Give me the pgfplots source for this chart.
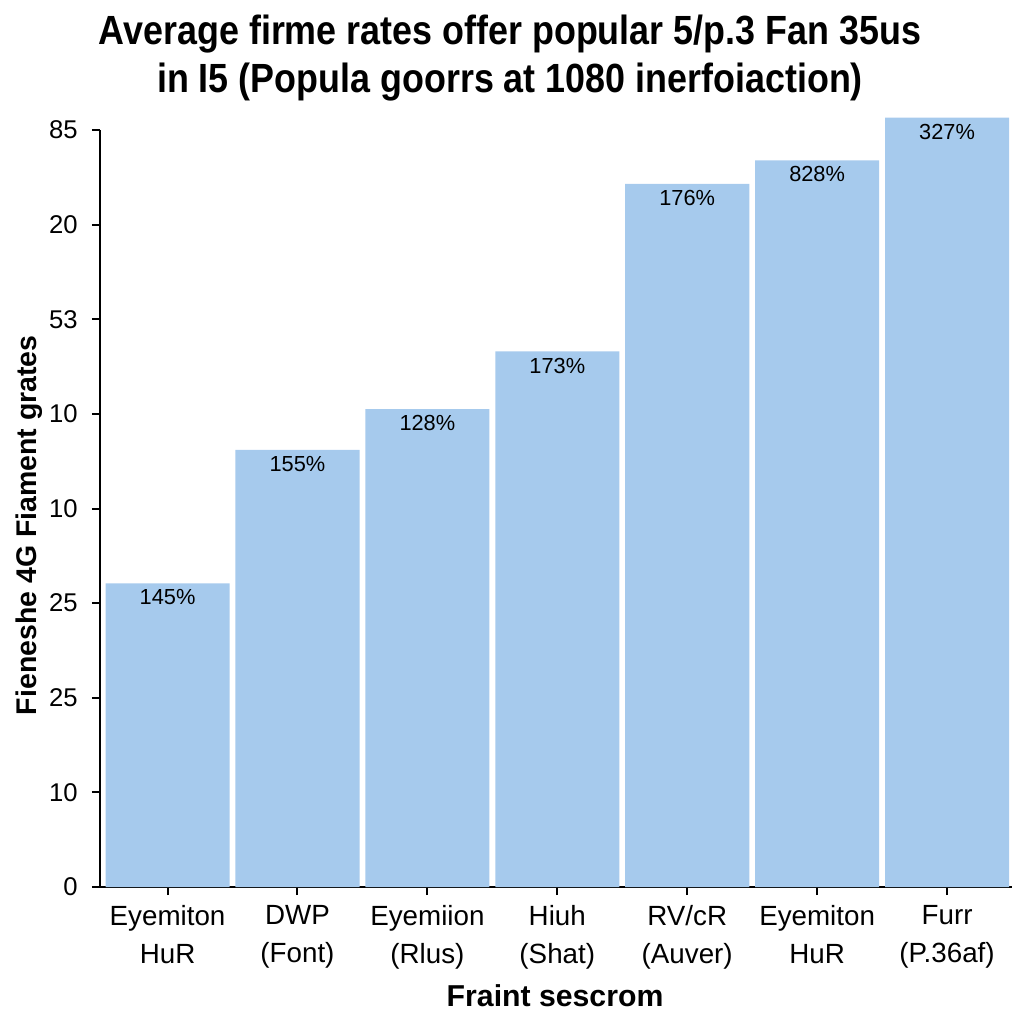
\documentclass[border=0pt]{standalone}
\usepackage{pgfplots}
\pgfplotsset{compat=1.18}
\usepackage{fontspec}
\setmainfont{Liberation Sans}
\definecolor{barblue}{RGB}{166,202,237}

\begin{document}
\begin{tikzpicture}
\useasboundingbox (-10mm,-13.7mm) rectangle (92.4mm,88.7mm);
\begin{axis}[
  scale only axis,
  width=91.2mm, height=75.7mm,
  xmin=-0.52, xmax=6.5, ymin=0, ymax=8,
  clip=false,
  axis x line*=bottom, axis y line*=left,
  axis line style={line width=0.25mm, black},
  tick style={line width=0.2mm, black},
  major tick length=0.8mm,
  tick align=outside,
  xtick={0,...,6},
  xticklabels={{Eyemiton\\HuR},{DWP\\(Font)},{Eyemiion\\(Rlus)},{Hiuh\\(Shat)},
               {RV/cR\\(Auver)},{Eyemiton\\HuR},{Furr\\(P.36af)}},
  xticklabel style={align=center, font=\fontsize{7.9}{10.7}\selectfont, yshift=0.2mm},
  ytick={0,...,8},
  yticklabels={0,10,25,25,10,10,53,20,85},
  yticklabel style={font=\fontsize{7.3}{8}\selectfont, xshift=-0.2mm},
  /pgf/number format/assume math mode=true,
  xlabel={Fraint sescrom},
  xlabel style={at={(axis description cs:0.499,-0.143)}, anchor=center,
                font=\bfseries\fontsize{8.6}{10}\selectfont},
  ylabel={Fieneshe 4G Fiament grates},
  ylabel style={at={(axis description cs:-0.078,0.478)}, anchor=center, rotate=0,
                font=\bfseries\fontsize{8.1}{10}\selectfont},
  ybar, bar width=0.955,
  nodes near coords,
  point meta=explicit symbolic,
  nodes near coords style={anchor=north, yshift=0.6mm,
                           font=\fontsize{6.2}{7}\selectfont},
]
\addplot[fill=barblue, draw=none] table[meta=lab] {
x y lab
0 3.21 145\%
1 4.62 155\%
2 5.05 128\%
3 5.66 173\%
4 7.43 176\%
5 7.68 828\%
6 8.13 327\%
};
\end{axis}
\node[align=center, font=\bfseries\fontsize{11.6}{13.5}\selectfont] at (41mm,82.9mm)
  {\scalebox{0.88}[1]{Average firme rates offer popular 5/p.3 Fan 35us}\\
   \scalebox{0.88}[1]{in I5 (Popula goorrs at 1080 inerfoiaction)}};
\end{tikzpicture}
\end{document}
